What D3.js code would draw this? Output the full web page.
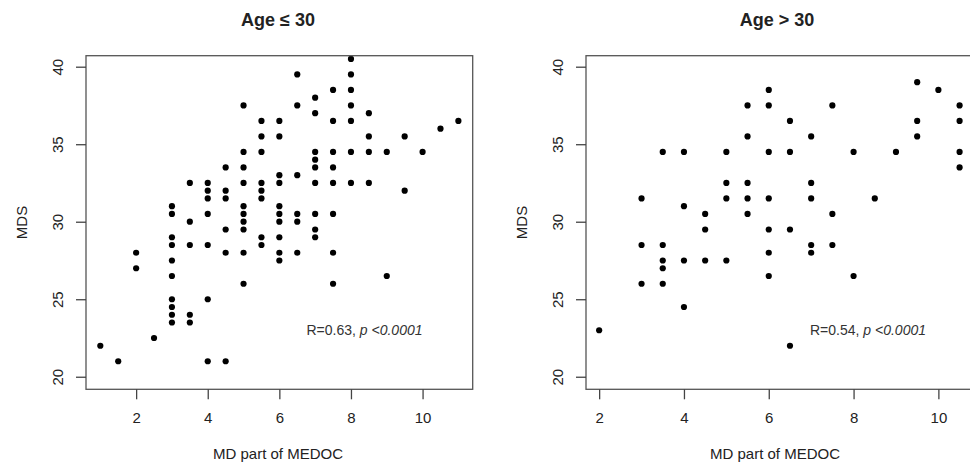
<!DOCTYPE html>
<html>
<head>
<meta charset="utf-8">
<script src="https://cdn.jsdelivr.net/npm/d3@7"></script>
<style>
  html, body { margin: 0; padding: 0; background: #fff; }
  svg { display: block; font-family: "Liberation Sans", Arial, sans-serif; }
</style>
</head>
<body>
<svg id="chart" width="970" height="463"></svg>
<script>
// ---- Data ----
const titles = ["Age \u2264 30", "Age > 30"];
const statLabels = ["R=0.63, ", "R=0.54, "];
const pLabel = "p <0.0001";
const xTicks = [2, 4, 6, 8, 10];
const yTicks = [20, 25, 30, 35, 40];
const xTitle = "MD part of MEDOC";
const yTitle = "MDS";

// Age <= 30
const youngX = [8, 6.5, 8, 7.5, 8, 7, 5, 6.5, 8, 7, 8.5, 5.5, 6, 7.5, 8, 11, 10.5,
  5.5, 6, 8.5, 9.5, 5, 5.5, 7, 7.5, 8, 8.5, 9, 10, 7, 4.5, 5, 7, 7.5, 6, 6.5,
  3.5, 4, 5, 5.5, 6, 7, 7.5, 8, 8.5, 4, 4.5, 5.5, 9.5, 4, 4.5, 5.5, 3, 5, 6,
  3, 4, 5, 6, 6.5, 7, 7.5, 3.5, 5, 6, 6.5, 4.5, 5, 7, 3, 5.5, 6, 7,
  3, 3.5, 4, 5.5, 2, 4.5, 5, 6, 6.5, 7.5, 3, 6, 2, 3, 9, 5, 7.5, 3, 4, 3,
  3, 3.5, 3, 3.5, 2.5, 1, 1.5, 4, 4.5];
const youngY = [40.5, 39.5, 39.5, 38.5, 38.5, 38, 37.5, 37.5, 37.5, 37, 37, 36.5, 36.5, 36.5, 36.5, 36.5, 36,
  35.5, 35.5, 35.5, 35.5, 34.5, 34.5, 34.5, 34.5, 34.5, 34.5, 34.5, 34.5, 34, 33.5, 33.5, 33.5, 33.5, 33, 33,
  32.5, 32.5, 32.5, 32.5, 32.5, 32.5, 32.5, 32.5, 32.5, 32, 32, 32, 32, 31.5, 31.5, 31.5, 31, 31, 31,
  30.5, 30.5, 30.5, 30.5, 30.5, 30.5, 30.5, 30, 30, 30, 30, 29.5, 29.5, 29.5, 29, 29, 29, 29,
  28.5, 28.5, 28.5, 28.5, 28, 28, 28, 28, 28, 28, 27.5, 27.5, 27, 26.5, 26.5, 26, 26, 25, 25, 24.5,
  24, 24, 23.5, 23.5, 22.5, 22, 21, 21, 21];

// Age > 30
const olderX = [9.5, 6, 10, 5.5, 6, 7.5, 10.5, 6.5, 9.5, 10.5, 5.5, 7, 9.5,
  3.5, 4, 5, 6, 6.5, 8, 9, 10.5, 10.5, 5, 5.5, 7, 3, 5, 5.5, 6, 7, 8.5, 4,
  4.5, 5.5, 7.5, 4.5, 6, 6.5, 3, 3.5, 7, 7.5, 6, 7, 3.5, 4, 4.5, 5, 3.5,
  6, 8, 3, 3.5, 4, 2, 6.5];
const olderY = [39, 38.5, 38.5, 37.5, 37.5, 37.5, 37.5, 36.5, 36.5, 36.5, 35.5, 35.5, 35.5,
  34.5, 34.5, 34.5, 34.5, 34.5, 34.5, 34.5, 34.5, 33.5, 32.5, 32.5, 32.5, 31.5, 31.5, 31.5, 31.5, 31.5, 31.5, 31,
  30.5, 30.5, 30.5, 29.5, 29.5, 29.5, 28.5, 28.5, 28.5, 28.5, 28, 28, 27.5, 27.5, 27.5, 27.5, 27,
  26.5, 26.5, 26, 26, 24.5, 23, 22];

// ---- Layout ----
const svg = d3.select("#chart");
const textColor = "#222";
const yDomain = [19.19, 40.71];
const panels = [
  { xs: youngX, ys: youngY, xDomain: [0.6, 11.4], left: 86, right: 472.7, title: titles[0], stat: statLabels[0], statX: 306.5, xTitleX: 278, titleX: 278 },
  { xs: olderX, ys: olderY, xDomain: [1.69, 10.84], left: 586, right: 974, title: titles[1], stat: statLabels[1], statX: 810, xTitleX: 775, titleX: 777 }
];
const plotTop = 55.7, plotBottom = 389.3;
const tickLen = 10;

panels.forEach(p => {
  const x = d3.scaleLinear().domain(p.xDomain).range([p.left, p.right]);
  const y = d3.scaleLinear().domain(yDomain).range([plotBottom, plotTop]);
  const g = svg.append("g");

  // points
  g.append("g").selectAll("circle")
    .data(d3.range(p.xs.length))
    .join("circle")
    .attr("cx", i => x(p.xs[i]))
    .attr("cy", i => y(p.ys[i]))
    .attr("r", 3.1)
    .attr("fill", "#000");

  // box
  g.append("rect")
    .attr("x", p.left).attr("y", plotTop)
    .attr("width", p.right - p.left).attr("height", plotBottom - plotTop)
    .attr("fill", "none").attr("stroke", "#555").attr("stroke-width", 1.3);

  // x axis
  const xAxis = d3.axisBottom(x).tickValues(xTicks).tickSize(tickLen).tickSizeOuter(0);
  const xg = g.append("g").attr("transform", `translate(0,${plotBottom})`).call(xAxis);
  xg.select(".domain").remove();
  xg.selectAll(".tick line").attr("stroke", "#444").attr("stroke-width", 1.3);
  xg.selectAll(".tick text")
    .attr("font-size", 15).attr("fill", textColor)
    .attr("font-family", "Liberation Sans, Arial, sans-serif")
    .attr("dy", null).attr("y", 34);

  // y axis
  const yAxis = d3.axisLeft(y).tickValues(yTicks).tickSize(tickLen).tickSizeOuter(0);
  const yg = g.append("g").attr("transform", `translate(${p.left},0)`).call(yAxis);
  yg.select(".domain").remove();
  yg.selectAll(".tick line").attr("stroke", "#444").attr("stroke-width", 1.3);
  yg.selectAll(".tick text")
    .attr("font-size", 15).attr("fill", textColor)
    .attr("font-family", "Liberation Sans, Arial, sans-serif")
    .attr("x", null).attr("dy", null)
    .attr("text-anchor", "middle")
    .attr("transform", "translate(-22.7,0) rotate(-90)");

  // axis titles
  g.append("text")
    .attr("x", p.xTitleX)
    .attr("y", 458.5)
    .attr("text-anchor", "middle")
    .attr("font-size", 15).attr("fill", textColor)
    .text(xTitle);
  g.append("text")
    .attr("transform", `translate(${p.left - 58.7},${(plotTop + plotBottom) / 2}) rotate(-90)`)
    .attr("text-anchor", "middle")
    .attr("font-size", 15).attr("fill", textColor)
    .text(yTitle);

  // title
  g.append("text")
    .attr("x", p.titleX)
    .attr("y", 26)
    .attr("text-anchor", "middle")
    .attr("font-size", 18).attr("font-weight", "bold").attr("fill", textColor)
    .text(p.title);

  // stat annotation
  const st = g.append("text")
    .attr("x", p.statX).attr("y", 335)
    .attr("font-size", 14).attr("fill", "#333");
  st.append("tspan").text(p.stat);
  st.append("tspan").attr("font-style", "italic").text(pLabel);
});
</script>
</body>
</html>
